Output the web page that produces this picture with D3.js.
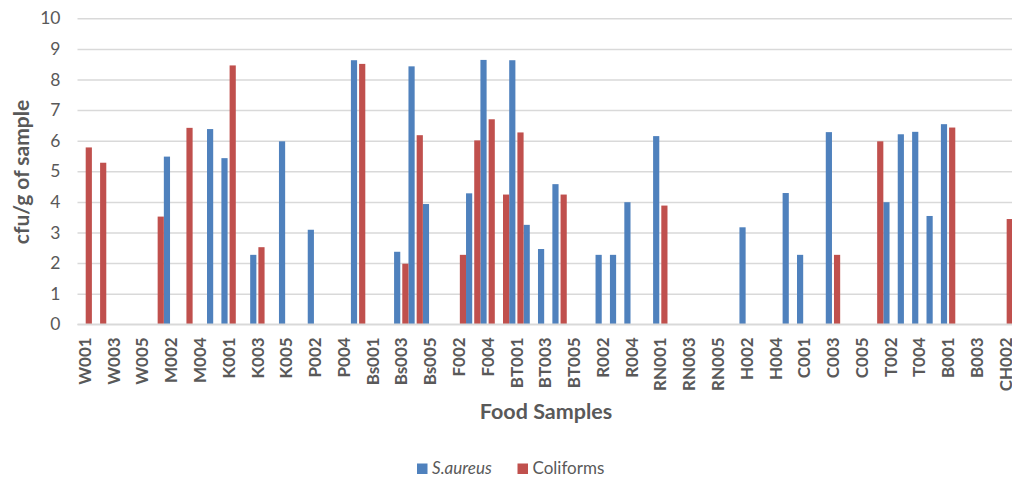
<!DOCTYPE html>
<html>
<head>
<meta charset="utf-8">
<script src="https://cdn.jsdelivr.net/npm/d3@7"></script>
<style>
  html, body { margin: 0; padding: 0; background: #fff; }
  svg { display: block; }
</style>
</head>
<body>
<svg id="chart" width="1012" height="478"></svg>
<script>
// ---- data ----
const categories = [
  "W001","W002","W003","W004","W005",
  "M001","M002","M003","M004","M005",
  "K001","K002","K003","K004","K005",
  "P001","P002","P003","P004","P005",
  "Bs001","Bs002","Bs003","Bs004","Bs005",
  "F001","F002","F003","F004","F005",
  "BT001","BT002","BT003","BT004","BT005",
  "R001","R002","R003","R004","R005",
  "RN001","RN002","RN003","RN004","RN005",
  "H001","H002","H003","H004","H005",
  "C001","C002","C003","C004","C005",
  "T001","T002","T003","T004","T005",
  "B001","B002","B003",
  "CH001","CH002"
];
const seriesNames = ["S.aureus", "Coliforms"];
const saureus = [
  null, null, null, null, null,
  null, 5.48, null, null, 6.38,
  5.43, null, 2.27, null, 5.98,
  null, 3.09, null, null, 8.63,
  null, null, 2.37, 8.43, 3.93,
  null, null, 4.28, 8.64, null,
  8.63, 3.25, 2.46, 4.58, null,
  null, 2.27, 2.27, 3.99, null,
  6.15, null, null, null, null,
  null, 3.17, null, null, 4.29,
  2.27, null, 6.28, null, null,
  null, 3.99, 6.21, 6.29, 3.54,
  6.54, null, null,
  null, null
];
const coliforms = [
  5.78, 5.28, null, null, null,
  3.52, null, 6.42, null, null,
  8.46, null, 2.52, null, null,
  null, null, null, null, 8.51,
  null, null, 1.98, 6.18, null,
  null, 2.27, 6.01, 6.70, 4.24,
  6.27, null, null, 4.24, null,
  null, null, null, null, null,
  3.88, null, null, null, null,
  null, null, null, null, null,
  null, null, 2.27, null, null,
  5.98, null, null, null, null,
  6.43, null, null,
  null, 3.44
];
const yTicks = [0,1,2,3,4,5,6,7,8,9,10];
const xTitle = "Food Samples";
const yTitle = "cfu/g of sample";

// ---- layout ----
const colors = { "S.aureus": "#4f81bd", "Coliforms": "#c0504d" };
const textColor = "#595959";
const gridColor = "#d9d9d9";
const plotLeft = 77.5, plotRight = 77.5 + 65 * 14.39;
const plotTop = 18.3, plotBottom = 324.3;
const font = "Lato, 'Open Sans', sans-serif";

const svg = d3.select("#chart");

const x0 = d3.scaleBand().domain(categories).range([plotLeft, plotRight]).paddingInner(0).paddingOuter(0);
const x1 = d3.scaleBand().domain(seriesNames).range([0, x0.bandwidth()]).paddingInner(0.245).paddingOuter(0);
const y = d3.scaleLinear().domain([0, 10]).range([plotBottom, plotTop]);

// gridlines
const grid = svg.append("g").attr("transform", `translate(${plotLeft},0)`)
  .call(d3.axisLeft(y).tickValues(yTicks).tickSize(-(1012 - plotLeft)).tickFormat(""));
grid.select(".domain").remove();
grid.selectAll("line").attr("stroke", gridColor).attr("stroke-width", 1.5);

// y axis labels
const yAxis = svg.append("g").attr("transform", `translate(${plotLeft},0)`)
  .call(d3.axisLeft(y).tickValues(yTicks).tickSize(0).tickPadding(17).tickFormat(d3.format("d")));
yAxis.select(".domain").remove();
yAxis.selectAll("text").attr("fill", textColor).style("font-family", font).style("font-size", "17.5px");

// bars
const seriesData = [
  { name: "S.aureus", values: saureus },
  { name: "Coliforms", values: coliforms }
];
seriesData.forEach(s => {
  svg.append("g").selectAll("rect")
    .data(categories.map((c, i) => ({ c, v: s.values[i] })).filter(d => d.v != null))
    .join("rect")
    .attr("x", d => x0(d.c) + x1(s.name))
    .attr("width", x1.bandwidth())
    .attr("y", d => y(d.v))
    .attr("height", d => y(0) - y(d.v))
    .attr("fill", colors[s.name]);
});

// x axis
const xAxis = svg.append("g").attr("transform", `translate(0,${plotBottom})`)
  .call(d3.axisBottom(x0).tickValues(categories.filter((c, i) => i % 2 === 0)).tickSize(0));
xAxis.select(".domain").attr("stroke", gridColor).attr("stroke-width", 1.5)
  .attr("d", `M${plotLeft},0H1012`);
xAxis.selectAll("text")
  .attr("transform", "rotate(-90)")
  .attr("x", -13).attr("y", 0).attr("dy", "0.36em")
  .attr("text-anchor", "end")
  .attr("fill", textColor)
  .style("font-family", font).style("font-size", "17px").style("font-weight", "bold");

// axis titles
svg.append("text")
  .attr("x", 546).attr("y", 419)
  .attr("text-anchor", "middle")
  .attr("fill", textColor)
  .style("font-family", font).style("font-size", "21.5px").style("font-weight", "bold")
  .text(xTitle);
svg.append("text")
  .attr("transform", `translate(29,172) rotate(-90)`)
  .attr("text-anchor", "middle")
  .attr("fill", textColor)
  .style("font-family", font).style("font-size", "21px").style("font-weight", "bold")
  .text(yTitle);

// legend
const legendItems = [
  { name: "S.aureus", x: 417, italic: true },
  { name: "Coliforms", x: 517.5, italic: false }
];
const lg = svg.append("g");
legendItems.forEach(it => {
  lg.append("rect").attr("x", it.x).attr("y", 463.5).attr("width", 10.5).attr("height", 10.5)
    .attr("fill", colors[it.name]);
  lg.append("text").attr("x", it.x + 15).attr("y", 473.5)
    .attr("fill", textColor)
    .style("font-family", font).style("font-size", "17px")
    .style("font-style", it.italic ? "italic" : "normal")
    .text(it.name);
});
</script>
</body>
</html>
